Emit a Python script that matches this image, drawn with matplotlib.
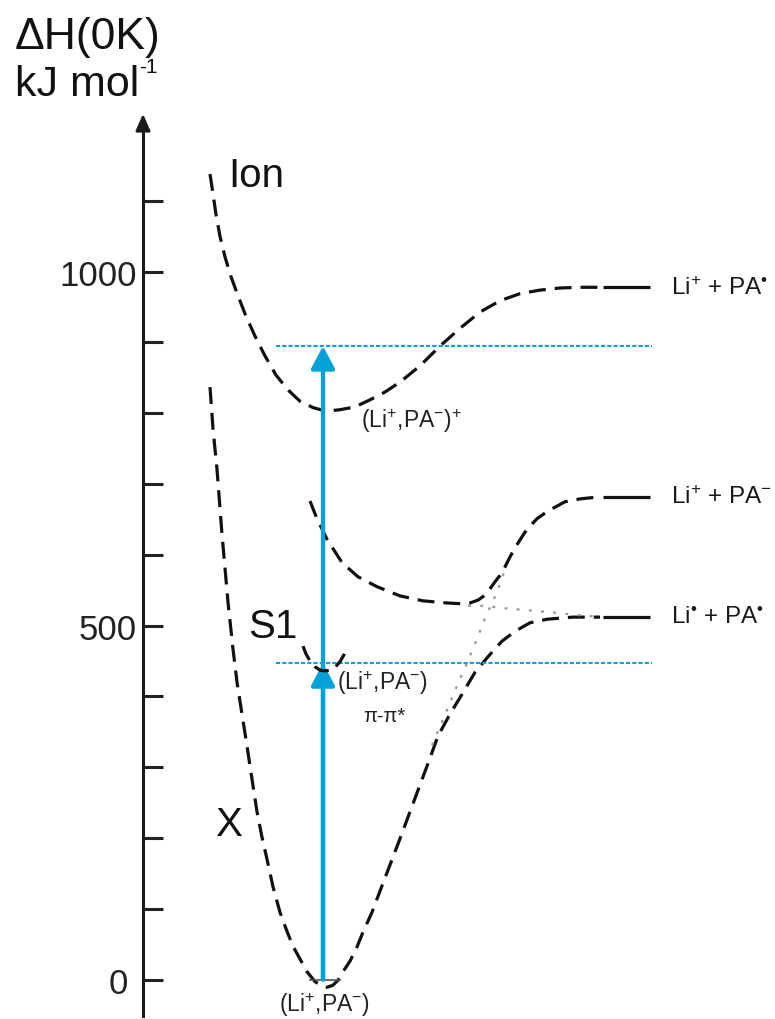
import matplotlib
matplotlib.use('Agg')
import matplotlib.pyplot as plt

plt.rcParams['font.family'] = ['Liberation Sans', 'DejaVu Sans']
plt.rcParams['mathtext.fontset'] = 'custom'
plt.rcParams['mathtext.rm'] = 'Liberation Sans'
plt.rcParams['mathtext.it'] = 'Liberation Sans:italic'
plt.rcParams['mathtext.bf'] = 'Liberation Sans:bold'
plt.rcParams['mathtext.default'] = 'regular'

# ---------------- data (x = reaction coordinate, E = kJ/mol) ----------------
x_ground = [210, 213, 217, 222, 228, 233, 237, 242, 247, 252, 257, 262, 267, 273,
            280, 287, 293, 300, 307, 315, 322, 327, 333, 338, 343, 350, 357, 363,
            372, 380, 390, 400, 410, 420, 429, 438, 450, 462, 475, 488, 502, 515,
            530, 547, 573, 600]
e_ground = [837, 778, 721, 629, 533, 467, 420, 375, 330, 283, 237, 201, 170, 131,
            95, 68, 47, 29, 11, -3, -9, -11, -8, -1, 11, 26, 46, 67,
            95, 125, 162, 199, 237, 275, 309, 344, 375, 403, 434, 456, 478, 492,
            504, 509, 512, 512]

x_ion = [210, 213, 216, 220, 225, 231, 238, 246, 255, 265, 276, 288, 300, 313,
         326, 340, 355, 370, 385, 400, 420, 440, 460, 480, 500, 520, 540, 560,
         580, 600]
e_ion = [1138, 1110, 1081, 1050, 1021, 993, 966, 937, 909, 881, 854, 833, 817, 808,
         803, 805, 809, 819, 830, 844, 867, 895, 920, 943, 959, 969, 974, 977,
         978, 978]

x_s1 = [310, 317, 327, 342, 358, 377, 400, 423, 447, 460, 470, 478, 485, 490,
        495, 500, 505, 510, 515, 520, 525, 531, 537, 545, 552, 565, 580, 600]
e_s1 = [676, 651, 622, 589, 569, 555, 542, 535, 532, 531, 532, 536, 543, 552,
        562, 571, 583, 597, 610, 621, 632, 642, 651, 659, 665, 675, 679, 682]

x_s1_well = [303, 306, 310, 315, 320, 325, 330, 335, 340, 344, 347]
e_s1_well = [471, 460, 450, 442, 437, 436, 437, 441, 449, 459, 469]

x_diab1 = [432, 442, 457, 467, 477, 486, 497, 506]
e_diab1 = [331, 364, 415, 447, 481, 514, 547, 583]

x_diab2 = [468, 487, 500, 525, 550, 577, 602]
e_diab2 = [528, 528, 525, 522, 519, 515, 512]

asymptote_e = [978, 682, 512]
asymptote_labels = [r'Li$^{+}$ + PA$^{•}$', r'Li$^{+}$ + PA$^{-}$', r'Li$^{•}$ + PA$^{•}$']

excite_x = 323
excite_levels = [447, 895]     # S1 level, ionisation level

ytick_vals = list(range(0, 1101, 100))
ylabel_vals = [0, 500, 1000]
ylabel_text = ['0', '500', '1000']

# ---------------- figure ----------------
fig = plt.figure(figsize=(7.75, 10.2), dpi=100)
ax = fig.add_axes([0, 0, 1, 1])
ax.set_xlim(0, 775)
ax.set_ylim(-55.8, 1385.3)

for s in ['top', 'right', 'bottom']:
    ax.spines[s].set_visible(False)
ax.spines['left'].set_position(('data', 143))
ax.spines['left'].set_bounds(-52, 1215)
ax.spines['left'].set_linewidth(2.2)
ax.spines['left'].set_color('#1a1a1a')
ax.set_xticks([])
ax.set_yticks(ytick_vals)
ax.set_yticklabels([''] * len(ytick_vals))
ax.tick_params(axis='y', direction='in', length=14.5, width=2.2, color='#222222')

label_right = {0: 128, 500: 137, 1000: 137}
for v, t in zip(ylabel_vals, ylabel_text):
    ax.text(label_right[v], v, t, fontsize=25, color='#222222', ha='right',
            va='center_baseline')

# axis arrow head
ax.annotate('', xy=(143, 1223), xytext=(143, 1200),
            arrowprops=dict(arrowstyle='-|>,head_length=0.5,head_width=0.22',
                            color='#1a1a1a', lw=2, mutation_scale=20,
                            shrinkA=0, shrinkB=0))

dash = (0, (5.3, 2.8))
lw = 2.3
kk = '#111111'
ax.plot(x_ground, e_ground, color=kk, lw=lw, ls=dash)
ax.plot(x_ion, e_ion, color=kk, lw=lw, ls=dash)
ax.plot(x_s1, e_s1, color=kk, lw=lw, ls=dash)
ax.plot(x_s1_well, e_s1_well, color=kk, lw=lw, ls=(0, (4.8, 2.6)), zorder=5)

grey_dot = (0, (1.3, 4.2))
ax.plot(x_diab1, e_diab1, color='#999999', lw=1.6, ls=grey_dot)
ax.plot(x_diab2, e_diab2, color='#999999', lw=1.6, ls=grey_dot)

# asymptote levels
for e, lab in zip(asymptote_e, asymptote_labels):
    ax.plot([603, 650], [e, e], color=kk, lw=2.3, solid_capstyle='butt')
    ax.text(671, e, lab, fontsize=17.5, color='#1a1a1a', ha='left', va='center')

# ground level marker
ax.plot([310, 340], [0, 0], color='#555555', lw=1.2)

# cyan excitation
cyan = '#00a2d8'
for lev in excite_levels:
    ax.plot([276, 652], [lev, lev], color=cyan, lw=1.5, ls=(0, (2, 1)))
for lev in excite_levels:
    ax.annotate('', xy=(excite_x, lev), xytext=(excite_x, 0),
                arrowprops=dict(arrowstyle='-|>,head_length=0.68,head_width=0.36',
                                color=cyan, lw=3.1, mutation_scale=20,
                                shrinkA=0, shrinkB=0))

# labels
ax.text(15, 1332, 'ΔH(0K)', fontsize=32, color='#111111', ha='left', va='center')
ax.text(15, 1265, 'kJ mol', fontsize=31, color='#111111', ha='left', va='center')
ax.text(139, 1304, '-1', fontsize=15, color='#111111', ha='left', va='top')
ax.text(228, 1136, 'Ion', fontsize=29, color='#111111', ha='left', va='center')
ax.text(248, 500, 'S1', fontsize=29, color='#111111', ha='left', va='center')
ax.text(215, 220, 'X', fontsize=29, color='#111111', ha='left', va='center')

ax.text(361, 790, r'(Li$^{+}$,PA$^{-}$)$^{+}$', fontsize=16.5, color='#222222',
        ha='left', va='center')
ax.text(337, 420, r'(Li$^{+}$,PA$^{-}$)', fontsize=16.5, color='#222222',
        ha='left', va='center')
ax.text(363, 373, 'π-π*', fontsize=14.5, color='#222222', ha='left', va='center')
ax.text(279, -35, r'(Li$^{+}$,PA$^{-}$)', fontsize=16.5, color='#222222',
        ha='left', va='center')

fig.savefig('out.png', dpi=100)
